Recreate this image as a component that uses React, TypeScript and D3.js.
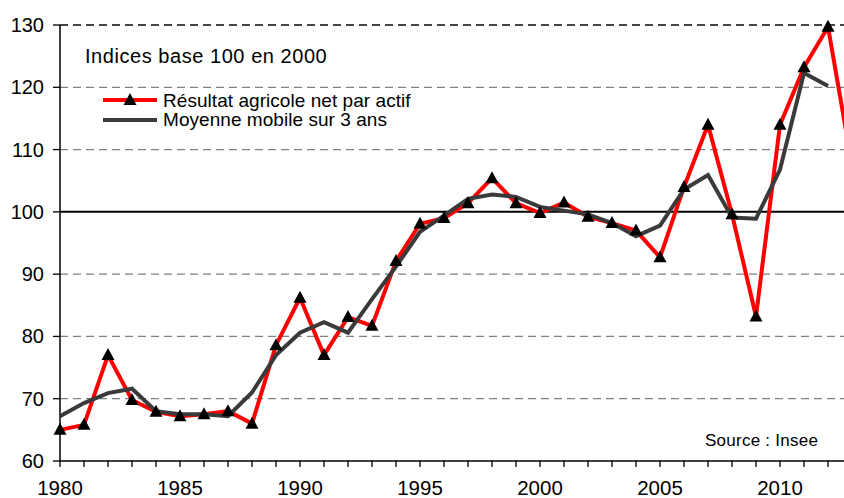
import React from "react";
import * as d3 from "d3";

const years = d3.range(1980, 2014);
const resultat = [65, 65.8, 77, 69.8, 67.9, 67.2, 67.5, 68, 66, 78.6, 86.2, 77, 83.1, 81.7, 92.1, 98.1, 99, 101.4, 105.4, 101.4, 99.8, 101.5, 99.2, 98.2, 97, 92.7, 104, 114, 99.6, 83.2, 114, 123.2, 129.7, 107.5];
const moyenneYears = d3.range(1980, 2013);
const moyenne = [67.2, 69.3, 70.9, 71.6, 68, 67.5, 67.5, 67.2, 71, 77, 80.6, 82.3, 80.6, 86, 91.2, 96.8, 99.4, 102.1, 102.8, 102.4, 100.8, 100.2, 99.6, 98.2, 96.1, 97.8, 103.6, 105.9, 99.1, 98.9, 106.8, 122.3, 120.2];
const yTicks = [60, 70, 80, 90, 100, 110, 120, 130];
const xLabelYears = [1980, 1985, 1990, 1995, 2000, 2005, 2010];
const title = "Indices base 100 en 2000";
const legendLabels = ["Résultat agricole net par actif", "Moyenne mobile sur 3 ans"];
const source = "Source : Insee";

const W = 844;
const H = 498;
const FONT = "Liberation Sans, Arial, sans-serif";

export default function App() {
  const x = d3.scaleLinear().domain([1980, 2010]).range([60, 780]);
  const y = d3.scaleLinear().domain([60, 130]).range([461, 25]);
  const redLine = d3.line<number>().x((_, i) => x(years[i])).y((d) => y(d));
  const greyLine = d3.line<number>().x((_, i) => x(moyenneYears[i])).y((d) => y(d));
  const tri = (cx: number, cy: number) => `M${cx},${cy - 7}L${cx + 6.5},${cy + 5}L${cx - 6.5},${cy + 5}Z`;
  const allTicks = d3.range(1980, 2013);

  return (
    <div style={{ position: "absolute", left: 0, top: 0 }}>
      <svg width={W} height={H} style={{ display: "block", background: "#fff" }} fontFamily={FONT}>
        {yTicks.filter((t) => t !== 60).map((t) => (
          <line
            key={t}
            x1={60}
            x2={W}
            y1={y(t)}
            y2={y(t)}
            stroke={t === 100 ? "#000" : t === 130 ? "#444" : "#808080"}
            strokeWidth={t === 100 ? 2 : t === 130 ? 2 : 1.3}
            strokeDasharray={t === 100 ? undefined : "8,5"}
          />
        ))}
        {/* y axis */}
        <line x1={60} x2={60} y1={y(130)} y2={y(60)} stroke="#000" strokeWidth={1.5} />
        {yTicks.map((t) => (
          <g key={t}>
            <line x1={53} x2={60} y1={y(t)} y2={y(t)} stroke="#000" strokeWidth={1.3} />
            <text x={44} y={y(t) + 7} textAnchor="end" fontSize={20} fill="#000">{t}</text>
          </g>
        ))}
        {/* x axis */}
        <line x1={60} x2={W} y1={y(60)} y2={y(60)} stroke="#000" strokeWidth={1.5} />
        {allTicks.map((yr) => (
          <line key={yr} x1={x(yr)} x2={x(yr)} y1={y(60)} y2={y(60) + 6} stroke="#000" strokeWidth={1.3} />
        ))}
        {xLabelYears.map((yr) => (
          <text key={yr} x={x(yr)} y={495} textAnchor="middle" fontSize={20.5} fill="#000">{yr}</text>
        ))}
        {/* series */}
        <path d={redLine(resultat) || ""} fill="none" stroke="#ff0000" strokeWidth={4} strokeLinejoin="miter" />
        <path d={greyLine(moyenne) || ""} fill="none" stroke="#3a3a3a" strokeWidth={4} strokeLinejoin="miter" />
        {resultat.map((v, i) => (
          <path key={i} d={tri(x(years[i]), y(v))} fill="#000" />
        ))}
        {/* title & legend */}
        <text x={85} y={63} fontSize={20} letterSpacing={0.55} fill="#000">{title}</text>
        <line x1={103} x2={157} y1={100} y2={100} stroke="#ff0000" strokeWidth={4} />
        <path d={tri(130, 100)} fill="#000" />
        <text x={163} y={107} fontSize={19} letterSpacing={0.05} fill="#000">{legendLabels[0]}</text>
        <line x1={103} x2={157} y1={120} y2={120} stroke="#3a3a3a" strokeWidth={4} />
        <text x={163} y={126} fontSize={19} letterSpacing={0.05} fill="#000">{legendLabels[1]}</text>
        <text x={705} y={446} fontSize={17} letterSpacing={0.25} fill="#000">{source}</text>
      </svg>
    </div>
  );
}
